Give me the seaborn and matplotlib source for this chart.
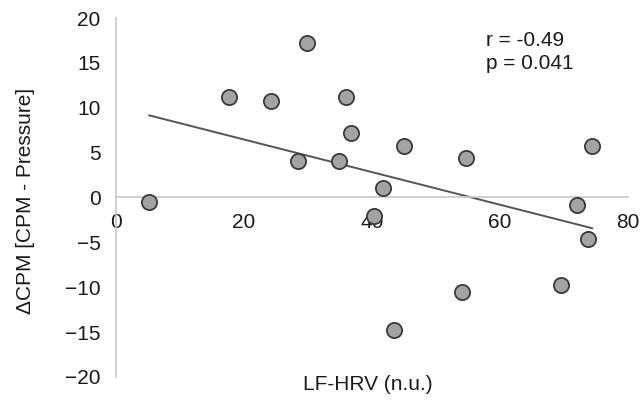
import matplotlib
matplotlib.use('Agg')
import matplotlib.pyplot as plt
import seaborn as sns
import pandas as pd

# LF-HRV (n.u.) vs delta CPM
lf_hrv = [5.2, 17.7, 24.3, 29.9, 28.5, 36.0, 36.8, 34.8, 41.7, 40.3,
          45.0, 54.6, 74.4, 72.0, 73.7, 69.5, 54.1, 43.4]
delta_cpm = [-0.5, 11.15, 10.7, 17.2, 4.1, 11.15, 7.2, 4.1, 1.1, -2.1,
             5.75, 4.45, 5.75, -0.8, -4.6, -9.7, -10.5, -14.8]
x_ticks = [0, 20, 40, 60, 80]
y_ticks = [-20, -15, -10, -5, 0, 5, 10, 15, 20]
stats_text = "r = -0.49\np = 0.041"

df = pd.DataFrame({'lf': lf_hrv, 'dcpm': delta_cpm})

sns.set_theme(style='white')
plt.rcParams['font.family'] = ['Liberation Sans', 'DejaVu Sans']

fig = plt.figure(figsize=(6.43, 4.01), dpi=100)
ax = fig.add_axes([0.180, 0.060, 0.797, 0.895])

sns.regplot(data=df, x='lf', y='dcpm', scatter=False, ci=None, ax=ax,
            line_kws={'color': '#555555', 'lw': 1.4})
sns.scatterplot(data=df, x='lf', y='dcpm', ax=ax, s=120, color='#a3a3a3',
                edgecolor='#3a3a3a', linewidth=1.3, zorder=3)

ax.set_xlim(0, 80)
ax.set_ylim(-20, 20)
ax.set_xticks(x_ticks)
ax.set_yticks(y_ticks)
ax.set_yticklabels([str(t).replace('-', '\u2212') for t in y_ticks])

for side in ['top', 'right']:
    ax.spines[side].set_visible(False)
ax.spines['bottom'].set_position(('data', 0))
for side in ['left', 'bottom']:
    ax.spines[side].set_color('#c8c8c8')
    ax.spines[side].set_linewidth(1.2)

fs = 15
ax.tick_params(axis='x', length=0, pad=11, labelsize=fs, colors='#1a1a1a')
ax.tick_params(axis='y', length=0, pad=11, labelsize=fs, colors='#1a1a1a')

ax.set_xlabel('')
ax.set_ylabel('')
fig.text(0.572, 0.040, 'LF-HRV (n.u.)', ha='center', va='center',
         fontsize=fs, color='#1a1a1a')
fig.text(0.040, 0.50, '\u0394CPM [CPM - Pressure]', ha='center', va='center',
         rotation=90, fontsize=fs, color='#1a1a1a')

ax.text(0.722, 0.965, stats_text, transform=ax.transAxes, ha='left', va='top',
        fontsize=fs, color='#1a1a1a', linespacing=1.3)

fig.savefig('out.png', dpi=100)
